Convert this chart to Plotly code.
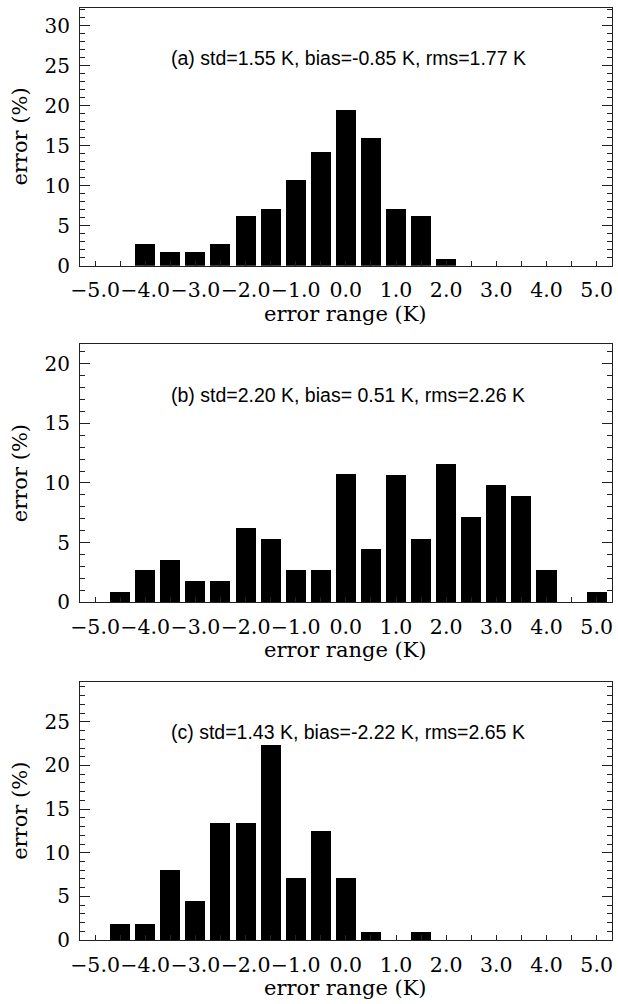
import plotly.graph_objects as go

W, H = 618, 1004

# ---- data ----
x_a = [-4.0, -3.5, -3.0, -2.5, -2.0, -1.5, -1.0, -0.5, 0.0, 0.5, 1.0, 1.5, 2.0]
y_a = [2.75, 1.83, 1.83, 2.75, 6.3, 7.2, 10.75, 14.3, 19.6, 16.1, 7.15, 6.25, 0.92]

x_b = [-4.5, -4.0, -3.5, -3.0, -2.5, -2.0, -1.5, -1.0, -0.5, 0.0, 0.5, 1.0,
       1.5, 2.0, 2.5, 3.0, 3.5, 4.0, 5.0]
y_b = [0.89, 2.71, 3.58, 1.79, 1.79, 6.26, 5.34, 2.68, 2.68, 10.73, 4.47, 10.70,
       5.34, 11.59, 7.12, 9.80, 8.91, 2.68, 0.87]

x_c = [-4.5, -4.0, -3.5, -3.0, -2.5, -2.0, -1.5, -1.0, -0.5, 0.0, 0.5, 1.5]
y_c = [1.83, 1.83, 8.09, 4.50, 13.44, 13.44, 22.33, 7.18, 12.56, 7.18, 0.92, 0.92]

panel_titles = [
    "(a) std=1.55 K, bias=-0.85 K, rms=1.77 K",
    "(b) std=2.20 K, bias= 0.51 K, rms=2.26 K",
    "(c) std=1.43 K, bias=-2.22 K, rms=2.65 K",
]
y_max = [32.3, 21.65, 29.6]
y_tick_top = [30, 20, 25]
x_tick_vals = [-5, -4, -3, -2, -1, 0, 1, 2, 3, 4, 5]
x_tick_text = ["\u22125.0", "\u22124.0", "\u22123.0", "\u22122.0", "\u22121.0",
               "0.0", "1.0", "2.0", "3.0", "4.0", "5.0"]
x_title = "error range (K)"
y_title = "error (%)"

# ---- layout (pixel geometry) ----
left_px, right_px = 80.0, 611.7
panels_px = [(7.5, 265.7), (344.0, 602.3), (681.7, 940.0)]
title_y_px = [58, 395, 732]

SERIF = "DejaVu Serif"
SANS = "Liberation Sans"

def py(p):
    return 1 - p / H

def px(p):
    return p / W

fig = go.Figure()
series = [(x_a, y_a), (x_b, y_b), (x_c, y_c)]
annotations = []
for i, (xs, ys) in enumerate(series):
    n = "" if i == 0 else str(i + 1)
    fig.add_trace(go.Bar(x=xs, y=ys, width=0.4, marker=dict(color="black", line=dict(width=0)),
                         xaxis="x" + n, yaxis="y" + n, showlegend=False))
    top, bot = panels_px[i]
    fig.layout["xaxis" + n] = dict(
        domain=[px(left_px), px(right_px)], anchor="y" + n, range=[-5.3, 5.3],
        tickmode="array", tickvals=x_tick_vals, ticktext=x_tick_text, tickangle=0,
        ticks="inside", ticklen=5, tickwidth=1, tickcolor="#222",
        minor=dict(dtick=0.5, tick0=0, ticks="inside", ticklen=5, tickwidth=1, tickcolor="#222"),
        showline=True, linecolor="#222", linewidth=1, mirror=True,
        showgrid=False, zeroline=False, automargin=False,
        tickfont=dict(family=SERIF, size=20.5, color="black"),
        ticklabelstandoff=6,
    )
    fig.layout["yaxis" + n] = dict(
        domain=[py(bot), py(top)], anchor="x" + n, range=[0, y_max[i]],
        tickmode="array", tickvals=list(range(0, y_tick_top[i] + 1, 5)),
        ticks="inside", ticklen=10, tickwidth=1, tickcolor="#222",
        minor=dict(dtick=1, tick0=0, ticks="inside", ticklen=5, tickwidth=1, tickcolor="#222"),
        showline=True, linecolor="#222", linewidth=1, mirror="allticks",
        showgrid=False, zeroline=False, automargin=False,
        tickfont=dict(family=SERIF, size=20, color="black"),
        ticklabelstandoff=5,
    )
    annotations.append(dict(text=panel_titles[i], x=px(348), y=py(title_y_px[i]),
                            xref="paper", yref="paper", showarrow=False,
                            xanchor="center", yanchor="middle",
                            font=dict(family=SANS, size=19.5, color="black")))
    annotations.append(dict(text=x_title, x=px((left_px + right_px) / 2), y=py(bot + 48),
                            xref="paper", yref="paper", showarrow=False,
                            xanchor="center", yanchor="middle",
                            font=dict(family=SERIF, size=21, color="black")))
    annotations.append(dict(text=y_title, x=px(20), y=py((top + bot) / 2),
                            xref="paper", yref="paper", showarrow=False, textangle=-90,
                            xanchor="center", yanchor="middle",
                            font=dict(family=SERIF, size=21, color="black")))

fig.update_layout(width=W, height=H, margin=dict(l=0, r=0, t=0, b=0, autoexpand=False),
                  paper_bgcolor="white", plot_bgcolor="white",
                  annotations=annotations, bargap=0)
fig.write_html("out.html", config={"displayModeBar": False},
               post_script="document.body.style.margin='0';document.body.style.overflow='hidden';")
